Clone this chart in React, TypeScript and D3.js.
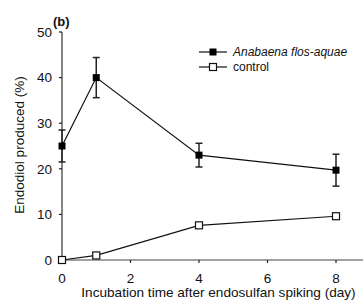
import * as d3 from 'd3'

const DAYS = [0, 1, 4, 8]
const ANABAENA = [25, 40, 23, 19.7]
const ANABAENA_ERR = [3.5, 4.4, 2.6, 3.5]
const CONTROL = [0, 1, 7.6, 9.6]
const X_TICKS = [0, 2, 4, 6, 8]
const Y_TICKS = [0, 10, 20, 30, 40, 50]

const FONT = 'Liberation Sans, Arial, sans-serif'

export default function App() {
  const width = 363
  const height = 300
  const x = d3.scaleLinear().domain([0, 8.8]).range([62, 363.4])
  const y = d3.scaleLinear().domain([0, 50]).range([260, 32])

  const line = d3.line<number>()
    .x((_, i) => x(DAYS[i]))
    .y(d => y(d))

  const ms = 7 // marker size
  const cap = 3.5

  return (
    <svg width={width} height={height} style={{ position: 'absolute', left: 0, top: 0 }} fontFamily={FONT}>
      <rect width={width} height={height} fill="white" />

      {/* axes */}
      <line x1={x(0)} x2={x(0)} y1={y(50)} y2={y(0)} stroke="#333" strokeWidth={1.2} />
      <line x1={x(0)} x2={x(8.8)} y1={y(0)} y2={y(0)} stroke="#444" strokeWidth={1.2} />
      {Y_TICKS.map(t => (
        <g key={`y${t}`}>
          <line x1={x(0) - 3} x2={x(0)} y1={y(t)} y2={y(t)} stroke="#222" strokeWidth={1.2} />
          <text x={52} y={y(t)} dy="0.36em" textAnchor="end" fontSize={13.5} fill="#111">{t}</text>
        </g>
      ))}
      {X_TICKS.map(t => (
        <g key={`x${t}`}>
          <line x1={x(t)} x2={x(t)} y1={y(0)} y2={y(0) + 3} stroke="#222" strokeWidth={1.2} />
          <text x={x(t)} y={283} textAnchor="middle" fontSize={13.5} fill="#111">{t}</text>
        </g>
      ))}

      <text x={218.5} y={297} textAnchor="middle" fontSize={13.6} fill="#111">
        Incubation time after endosulfan spiking (day)
      </text>
      <text transform={`translate(24,145) rotate(-90)`} textAnchor="middle" fontSize={13.5} fill="#111">
        Endodiol produced (%)
      </text>
      <text x={53} y={26} fontSize={13} fontWeight="bold" fill="#111">(b)</text>

      {/* control */}
      <path d={line(CONTROL) || ''} fill="none" stroke="#111" strokeWidth={1.2} />
      {CONTROL.map((v, i) => (
        <rect key={`c${i}`} x={x(DAYS[i]) - ms / 2} y={y(v) - ms / 2} width={ms} height={ms}
          fill="white" stroke="#111" strokeWidth={1.2} />
      ))}

      {/* Anabaena */}
      <path d={line(ANABAENA) || ''} fill="none" stroke="#111" strokeWidth={1.2} />
      {ANABAENA.map((v, i) => {
        const cx = x(DAYS[i])
        const hi = y(v + ANABAENA_ERR[i])
        const lo = y(v - ANABAENA_ERR[i])
        return (
          <g key={`a${i}`}>
            <line x1={cx} x2={cx} y1={hi} y2={lo} stroke="#222" strokeWidth={1.5} />
            <line x1={cx - cap} x2={cx + cap} y1={hi} y2={hi} stroke="#222" strokeWidth={1.5} />
            <line x1={cx - cap} x2={cx + cap} y1={lo} y2={lo} stroke="#222" strokeWidth={1.5} />
            <rect x={cx - ms / 2} y={y(v) - ms / 2} width={ms} height={ms} fill="#000" />
          </g>
        )
      })}

      {/* legend */}
      <g>
        <line x1={199} x2={227} y1={52} y2={52} stroke="#111" strokeWidth={1.2} />
        <rect x={213 - ms / 2} y={52 - ms / 2} width={ms} height={ms} fill="#000" />
        <text x={233} y={52} dy="0.36em" fontSize={12} fontStyle="italic" fill="#111">Anabaena flos-aquae</text>
        <line x1={199} x2={227} y1={67} y2={67} stroke="#111" strokeWidth={1.2} />
        <rect x={213 - ms / 2} y={67 - ms / 2} width={ms} height={ms} fill="white" stroke="#111" strokeWidth={1.2} />
        <text x={233} y={67} dy="0.36em" fontSize={12} fill="#111">control</text>
      </g>
    </svg>
  )
}
